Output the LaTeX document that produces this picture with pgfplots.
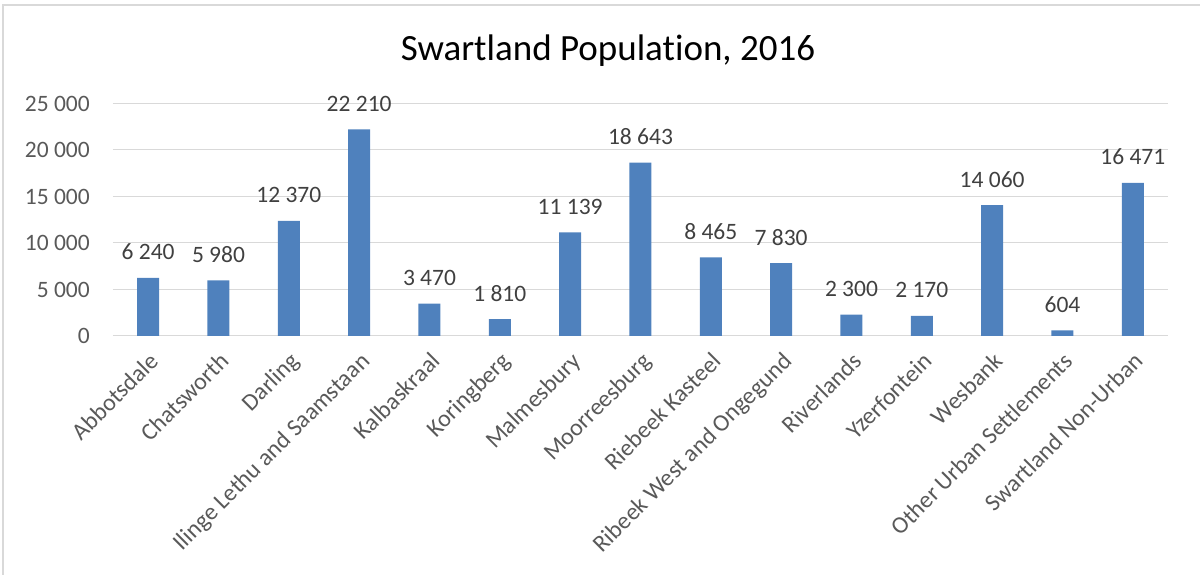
\documentclass[border=0pt]{standalone}
\usepackage{pgfplots}
\pgfplotsset{compat=1.18}
\usepackage{fontspec}
\setmainfont{Carlito}[Ligatures=NoCommon]
\definecolor{barblue}{HTML}{4F81BD}
\definecolor{gridgray}{HTML}{D9D9D9}
\definecolor{ticktext}{HTML}{595959}
\definecolor{labtext}{HTML}{404040}
\begin{document}
\begin{tikzpicture}[x=1pt,y=1pt]
\useasboundingbox (0,0) rectangle (1200,575);
\draw[gridgray, line width=1.5pt] (3,0) -- (3,570) -- (1200,570);
\node[anchor=base, font=\fontsize{37}{44}\selectfont, text=black] at (608,514) {Swartland Population, 2016};
\begin{axis}[
  at={(113pt,239pt)}, anchor=south west,
  scale only axis, width=1055pt, height=232.5pt,
  xmin=-0.5, xmax=14.5, ymin=0, ymax=25000,
  ytick distance=5000,
  scaled y ticks=false,
  xtick={0,...,14},
  xticklabels={Abbotsdale,Chatsworth,Darling,Ilinge Lethu and Saamstaan,Kalbaskraal,Koringberg,Malmesbury,Moorreesburg,Riebeek Kasteel,Ribeek West and Ongegund,Riverlands,Yzerfontein,Wesbank,Other Urban Settlements,Swartland Non-Urban},
  axis line style={draw=none},
  axis x line*=bottom,
  x axis line style={draw=gridgray, line width=1pt},
  major tick length=0pt,
  ymajorgrids, grid style={gridgray, line width=1pt},
  /pgf/number format/assume math mode=true,
  /pgf/number format/fixed,
  /pgf/number format/1000 sep={\ },
  yticklabel style={font=\fontsize{23.5}{28}\selectfont, text=ticktext, inner sep=0pt, anchor=east, xshift=-23pt},
  xticklabel style={font=\fontsize{24}{28}\selectfont, text=ticktext, rotate=45, anchor=north east, inner sep=2pt, xshift=-8.5pt, yshift=-8.5pt},
  nodes near coords,
  every node near coord/.append style={font=\fontsize{23.5}{28}\selectfont, text=labtext, anchor=base, inner sep=0pt, yshift=18pt},
  clip=false,
]
\addplot[ybar, bar width=22pt, fill=barblue, draw=none] coordinates {
(0,6240) (1,5980) (2,12370) (3,22210) (4,3470) (5,1810) (6,11139) (7,18643)
(8,8465) (9,7830) (10,2300) (11,2170) (12,14060) (13,604) (14,16471)};
\end{axis}
\end{tikzpicture}
\end{document}
